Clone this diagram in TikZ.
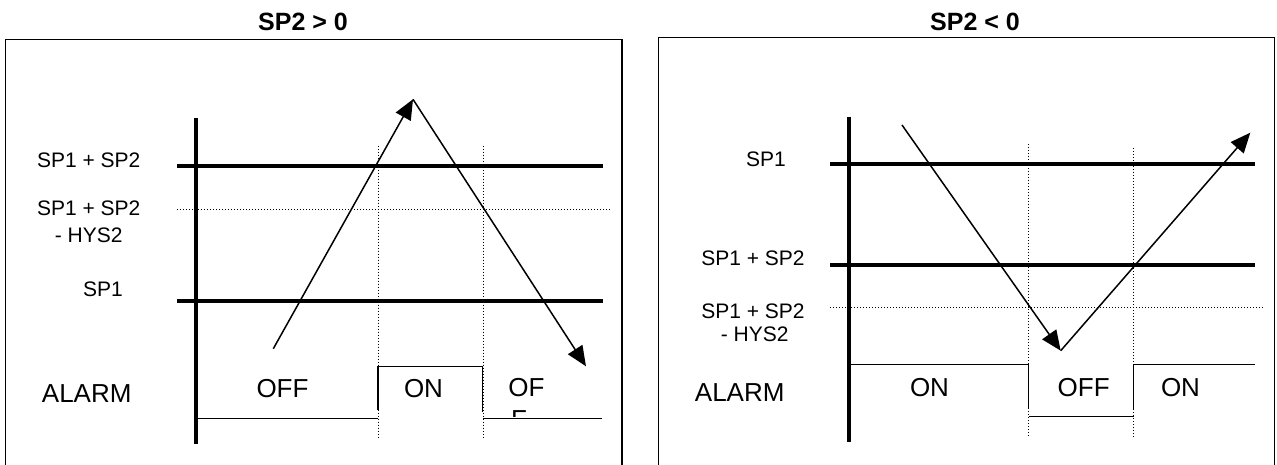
\documentclass[tikz,border=0pt]{standalone}
\usepackage{fontspec}
\setmainfont{Liberation Sans}
\usetikzlibrary{arrows.meta}
\tikzset{
  frameline/.style={line width=1.5pt},
  levelline/.style={line width=4pt},
  axisline/.style={line width=4pt},
  dotline/.style={line width=1pt, dash pattern=on 1pt off 2pt},
  sigline/.style={line width=1.5pt},
  ramparrow/.style={line width=1.5pt, -{Triangle[length=20pt,width=17pt]}},
  lbl/.style={inner sep=0pt, font=\fontsize{21}{25}\selectfont},
  alarmlbl/.style={inner sep=0pt, font=\fontsize{26}{30}\selectfont},
  ttl/.style={inner sep=0pt, font=\bfseries\fontsize{25}{30}\selectfont}
}
\begin{document}
\begin{tikzpicture}[x=1pt,y=-1pt]
\useasboundingbox (0,0) rectangle (1277,465);
\fill[white] (0,0) rectangle (1277,465);

% ================= LEFT PANEL =================
\node[ttl] (tL) at (303,21.5) {SP2 > 0};
\draw[frameline] (5.7,466) -- (5.7,39.3) -- (622,39.3) -- (622,466);

% levels
\draw[levelline] (177,165.7) -- (602.7,165.7);
\draw[dotline] (177,209.3) -- (610,209.3);
\draw[levelline] (177,301) -- (602.7,301);
% axis
\draw[axisline] (196,118) -- (196,443.7);
% vertical dotted guides
\draw[dotline] (378,145.7) -- (378,438.7);
\draw[dotline] (483.3,145.7) -- (483.3,438.7);

% labels
\node[lbl] (La) at (88.7,160.5) {SP1 + SP2};
\node[lbl] (Lb1) at (88.7,208) {SP1 + SP2};
\node[lbl] (Lb2) at (88.7,235) {- HYS2};
\node[lbl] (Lc) at (103,289.5) {SP1};
\node[alarmlbl] (Lalarm) at (86.7,393.7) {ALARM};
\node[alarmlbl] (Loff) at (282.5,389) {OFF};
\node[alarmlbl] (Lon) at (423.5,388.5) {ON};
\node[alarmlbl] (Lof) at (526.5,388) {OF};
\begin{scope}
  \clip (500,400) rectangle (560,416.5);
  \node[alarmlbl] (Lf) at (519,420) {F};
\end{scope}

% alarm signal
\draw[sigline] (196,418.7) -- (378,418.7);
\draw[sigline] (378,410) -- (378,366.3) -- (482.5,366.3) -- (482.5,412);
\draw[sigline] (483.3,418.7) -- (601.7,418.7);

% ramp
\coordinate (LA) at (273.3,348.7);
\coordinate (LB) at (413,99.3);
\coordinate (LC) at (586,366.3);
\draw[ramparrow] (LA) -- (LB);
\draw[ramparrow] (LB) -- (LC);

% ================= RIGHT PANEL =================
\node[ttl] (tR) at (975,21.5) {SP2 < 0};
\draw[frameline] (658.7,466) -- (658.7,37.7) -- (1274.7,37.7) -- (1274.7,466);

% levels
\draw[levelline] (830,164) -- (1255.3,164);
\draw[levelline] (830,264.7) -- (1255.3,264.7);
\draw[dotline] (830,307) -- (1263,307);
% axis
\draw[axisline] (848.7,116.7) -- (848.7,442);
% vertical dotted guides
\draw[dotline] (1028.7,144) -- (1028.7,437);
\draw[dotline] (1133.7,148) -- (1133.7,437);

% labels
\node[lbl] (Ra) at (766,159) {SP1};
\node[lbl] (Rb) at (753,258.5) {SP1 + SP2};
\node[lbl] (Rc1) at (753,311) {SP1 + SP2};
\node[lbl] (Rc2) at (754.7,334.5) {- HYS2};
\node[alarmlbl] (Ralarm) at (739.7,393) {ALARM};
\node[alarmlbl] (Ron1) at (929.5,388) {ON};
\node[alarmlbl] (Roff) at (1083.7,388) {OFF};
\node[alarmlbl] (Ron2) at (1180.5,388) {ON};

% alarm signal
\draw[sigline] (848.7,364.7) -- (1028.7,364.7) -- (1028.7,408.7);
\draw[sigline] (1028.7,416.3) -- (1133.7,416.3);
\draw[sigline] (1133.7,408.7) -- (1133.7,364.7) -- (1254.7,364.7);

% ramp
\coordinate (RA) at (902,125);
\coordinate (RB) at (1060.7,350.7);
\coordinate (RC) at (1250.3,132.7);
\draw[ramparrow] (RA) -- (RB);
\draw[ramparrow] (RB) -- (RC);
\end{tikzpicture}
\end{document}
